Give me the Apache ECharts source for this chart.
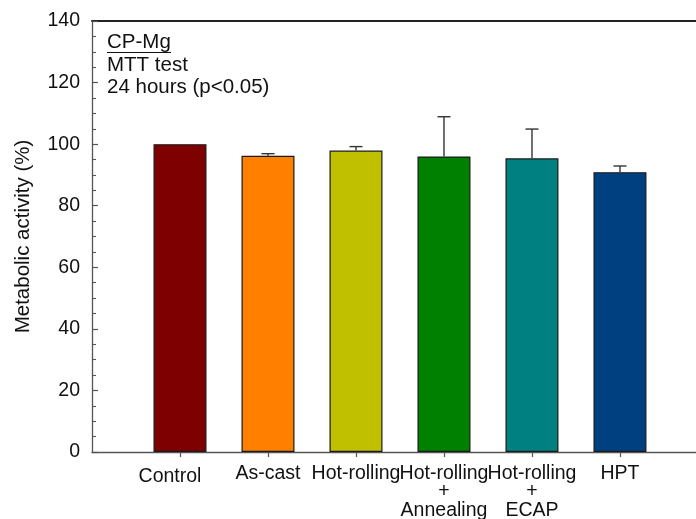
<!DOCTYPE html>
<html>
<head>
<meta charset="utf-8">
<script src="https://cdn.jsdelivr.net/npm/echarts@6/dist/echarts.min.js"></script>
<style>
  html, body { margin: 0; padding: 0; background: #fff; }
  #chart { width: 696px; height: 519px; }
</style>
</head>
<body>
<div id="chart"></div>
<script>
// Treatment groups, mean metabolic activity (%) and upper standard deviation
const categories = ['Control', 'As-cast', 'Hot-rolling', 'Hot-rolling\n+\nAnnealing', 'Hot-rolling\n+\nECAP', 'HPT'];
const meanValues = [100, 96.2, 97.9, 96.0, 95.4, 90.9];
const errorValues = [0, 0.7, 1.3, 12.9, 9.5, 2.0];
const barColors = ['#7f0000', '#ff8000', '#c0c000', '#008000', '#008080', '#004080'];
const yTicks = [0, 20, 40, 60, 80, 100, 120, 140];
const annotationLines = ['CP-Mg', 'MTT test', '24 hours (p<0.05)'];

const FONT = '"Liberation Sans", Arial, sans-serif';
const positions = categories.map((_, i) => i + 1);
// the frame runs past the right edge of the canvas
const xMax = 6.864;

const chart = echarts.init(document.getElementById('chart'), null, { renderer: 'canvas' });

const barData = meanValues.map((v, i) => ({
  value: [positions[i], v],
  itemStyle: { color: barColors[i] }
}));
const errData = meanValues.map((v, i) => [positions[i], v, errorValues[i]]);

chart.setOption({
  animation: false,
  backgroundColor: '#ffffff',
  grid: { left: 92, right: 0, top: 21, bottom: 67, outerBoundsMode: 'none', containLabel: false },
  xAxis: [{
    type: 'value',
    min: 0,
    max: xMax,
    splitLine: { show: false },
    axisLine: { show: true, lineStyle: { color: '#555', width: 1.3 } },
    axisTick: { show: true, inside: false, length: 5, customValues: positions, lineStyle: { color: '#555', width: 1.2 } },
    axisLabel: {
      customValues: positions,
      margin: 12,
      fontFamily: FONT,
      fontSize: 19.5,
      color: '#111',
      lineHeight: 18.5,
      formatter: function (val) {
        const idx = Math.round(val) - 1;
        const name = categories[idx] || '';
        if (idx === 0) return '{shift|' + name + '}';
        return name;
      },
      rich: {
        shift: { fontFamily: FONT, fontSize: 19.5, color: '#111', padding: [6, 20, 0, 0] }
      }
    }
  }, {
    type: 'value',
    position: 'top',
    min: 0,
    max: xMax,
    axisLine: { show: true, onZero: false, lineStyle: { color: '#222', width: 2 } },
    axisTick: { show: false },
    axisLabel: { show: false },
    splitLine: { show: false }
  }],
  yAxis: {
    type: 'value',
    min: yTicks[0],
    max: yTicks[yTicks.length - 1],
    interval: 20,
    name: 'Metabolic activity (%)',
    nameLocation: 'middle',
    nameGap: 58,
    nameTextStyle: { fontFamily: FONT, fontSize: 20.5, color: '#111' },
    splitLine: { show: false },
    axisLine: { show: true, lineStyle: { color: '#555', width: 1.3 } },
    axisTick: { show: true, inside: true, length: 6, lineStyle: { color: '#555', width: 1.2 } },
    minorTick: { show: true, splitNumber: 4, length: 4, lineStyle: { color: '#555', width: 1.1 } },
    axisLabel: { margin: 12, fontFamily: FONT, fontSize: 19.5, color: '#111' }
  },
  series: [{
    type: 'bar',
    data: barData,
    barWidth: 53,
    itemStyle: { borderColor: '#1a1a1a', borderWidth: 1.2 },
    z: 2
  }, {
    type: 'custom',
    data: errData,
    z: 3,
    renderItem: function (params, api) {
      const x = api.value(0), v = api.value(1), e = api.value(2);
      if (!e) return null;
      const base = api.coord([x, v]);
      const top = api.coord([x, v + e]);
      const half = 6.5;
      const style = { stroke: '#333', lineWidth: 1.4 };
      return {
        type: 'group',
        children: [
          { type: 'line', shape: { x1: base[0], y1: base[1], x2: top[0], y2: top[1] }, style: style },
          { type: 'line', shape: { x1: top[0] - half, y1: top[1], x2: top[0] + half, y2: top[1] }, style: style }
        ]
      };
    }
  }],
  graphic: [
    { type: 'text', left: 107, top: 32, style: { text: annotationLines[0], font: '20.5px ' + FONT, fill: '#111' } },
    { type: 'line', shape: { x1: 107, y1: 52.5, x2: 171, y2: 52.5 }, style: { stroke: '#111', lineWidth: 1.2 } },
    { type: 'text', left: 107, top: 54.5, style: { text: annotationLines[1], font: '20.5px ' + FONT, fill: '#111' } },
    { type: 'text', left: 107, top: 77, style: { text: annotationLines[2], font: '20.5px ' + FONT, fill: '#111' } }
  ]
});
</script>
</body>
</html>
